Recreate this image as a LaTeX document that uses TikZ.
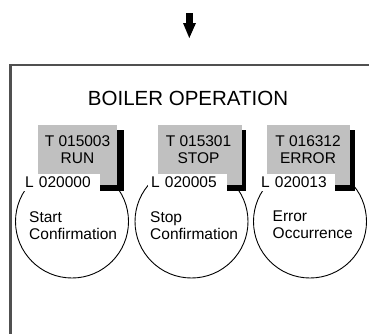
\documentclass[tikz,border=0pt]{standalone}
\usepackage{fontspec}
\setmainfont{Liberation Sans}
\definecolor{framegray}{HTML}{505050}
\definecolor{boxgray}{HTML}{C0C0C0}
\begin{document}
\begin{tikzpicture}[x=1pt,y=-1pt,
  txt/.style={font=\fontsize{15.5}{17}\selectfont, inner sep=0pt},
  ring/.style={circle, draw=black, line width=0.9pt, minimum size=113pt, inner sep=0pt},
  labelbox/.style={fill=white, anchor=south west, inner xsep=3pt, inner ysep=0pt,
    text height=14pt, text depth=3pt, align=left, font=\fontsize{15.5}{17}\selectfont},
]
\useasboundingbox (0,0) rectangle (369,333);
% arrow
\fill[black] (186,13) rectangle (192.5,24);
\fill[black] (183,23) -- (196,23) -- (189.3,38) -- cycle;
% frame
\draw[framegray, line width=2.2pt] (10.5,334) -- (10.5,64.5);
\draw[framegray, line width=1.6pt] (9.4,65) -- (370,65);
\node[font=\fontsize{20.5}{24}\selectfont, inner sep=0pt, anchor=base] (title) at (188,105) {BOILER OPERATION};
% circles
\node[ring] (c1) at (72,221.5) {};
\node[ring] (c2) at (191.5,221.5) {};
\node[ring] (c3) at (310,221.5) {};
\node[txt, anchor=north west, align=left] (ct1) at (29,211) {Start\\Confirmation};
\node[txt, anchor=north west, align=left] (ct2) at (150,211) {Stop\\Confirmation};
\node[txt, anchor=north west, align=left] (ct3) at (272.5,211) {Error\\Occurrence};
% box 1
\fill[black] (44,130) rectangle (123.5,190.5);
\fill[boxgray] (38,125) rectangle (117,185);
\coordinate (g1) at (77.5,135);
\node[txt, anchor=north, align=center] (t1) at (g1) {T 015003\\RUN};
\node[labelbox, text width=72pt] (l1) at (22,191) {\mbox{L 020000}};
% box 2
\fill[black] (163.5,130) rectangle (246,190.5);
\fill[boxgray] (158,125) rectangle (241.5,185);
\coordinate (g2) at (198.5,135);
\node[txt, anchor=north, align=center] (t2) at (g2) {T 015301\\STOP};
\node[labelbox, text width=73pt] (l2) at (148,191) {\mbox{L 020005}};
% box 3
\fill[black] (272,130) rectangle (355,190.5);
\fill[boxgray] (266.5,125) rectangle (350,185);
\coordinate (g3) at (308,135);
\node[txt, anchor=north, align=center] (t3) at (g3) {T 016312\\ERROR};
\node[labelbox, text width=71pt] (l3) at (258,191) {\mbox{L 020013}};
\end{tikzpicture}
\end{document}
